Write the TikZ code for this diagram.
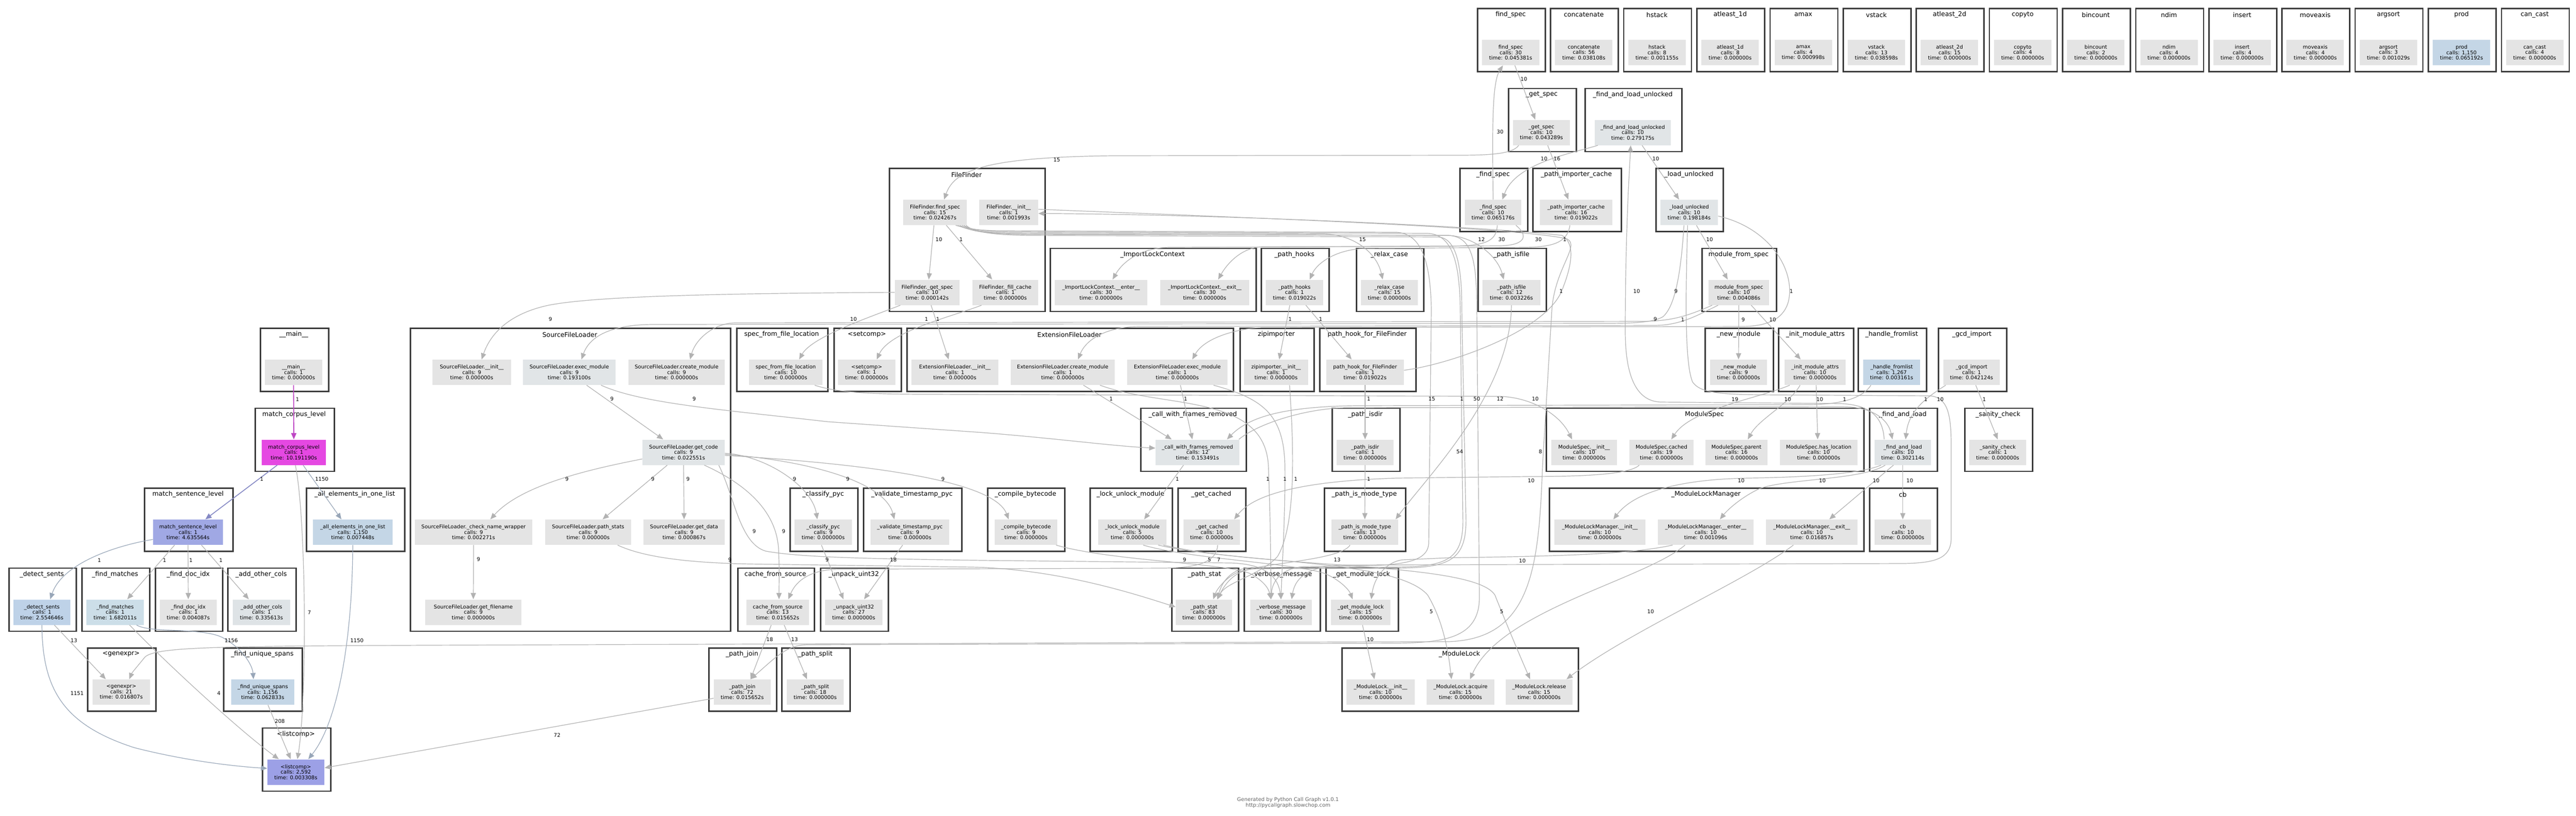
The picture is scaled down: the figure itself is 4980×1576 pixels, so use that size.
\documentclass[tikz,border=0pt]{standalone}
\usepackage{fontspec}
\setmainfont{DejaVu Sans}
\usetikzlibrary{arrows.meta}
\definecolor{ng}{RGB}{228,228,228}
\definecolor{nbg}{RGB}{225,229,231}
\definecolor{nb}{RGB}{196,214,230}
\definecolor{nmag}{RGB}{229,72,226}
\definecolor{nlav}{RGB}{160,168,228}
\definecolor{nlist}{RGB}{156,160,230}
\definecolor{ndet}{RGB}{190,210,232}
\definecolor{nfm}{RGB}{204,222,232}
\definecolor{naoc}{RGB}{222,227,230}
\definecolor{clb}{RGB}{60,60,60}
\definecolor{edg}{RGB}{178,178,178}
\definecolor{edbl}{RGB}{152,166,184}
\definecolor{edmag}{RGB}{190,70,196}
\definecolor{edpur}{RGB}{132,136,196}
\definecolor{glab}{RGB}{102,102,102}
\tikzset{
 clbox/.style={rectangle, draw=clb, line width=1.3pt, fill=white, inner sep=0pt},
 ttl/.style={font=\fontsize{6.2}{7}\selectfont, inner sep=0pt},
 fn/.style={rectangle, fill=#1, inner sep=0pt, minimum height=24.5pt, align=center, font=\fontsize{5}{5.25}\selectfont},
 ed/.style={draw=edg, line width=0.6pt, -{Triangle[length=6pt,width=5pt]}},
 edb/.style={ed, draw=edbl},
 edm/.style={ed, draw=edmag, line width=0.9pt},
 edp/.style={ed, draw=edpur, line width=0.8pt},
 lbl/.style={font=\fontsize{5}{6}\selectfont, inner sep=0pt},
 glb/.style={font=\fontsize{5}{6}\selectfont, inner sep=0pt, text=glab},
}
\newcommand\clu[6]{\node[clbox, anchor=north west, minimum width={(#4-#2)*0.5pt}, minimum height={(#5-#3)*0.5pt}] (#1) at (#2,#3) {};
 \node[ttl] (#1t) at ({(#2+#4)/2},#3+13.5) {#6};}
\newcommand\fnd[8]{\node[fn=#5, minimum width={(#3-#2)*0.5pt}] (#1) at ({(#2+#3)/2},#4+86.5) {#6\\calls: #7\\time: #8};}
\newcommand\elab[3]{\node[lbl] (#1) at (#2) {#3};}
\begin{document}
\begin{tikzpicture}[x=0.5pt,y=-0.5pt]
\fill[white] (0,0) rectangle (4980,1576);
\useasboundingbox (0,0) rectangle (4980,1576);
% ---------- top row
\foreach \ii/\nnm/\ntl/\ncl/\ntm/\nfc in {0/tfind/find\_spec/30/0.045381s/ng,1/tconc/concatenate/56/0.038108s/ng,2/thst/hstack/8/0.001155s/ng,3/tat1/atleast\_1d/8/0.000000s/ng,4/tamax/amax/4/0.000998s/ng,5/tvst/vstack/13/0.038598s/ng,6/tat2/atleast\_2d/15/0.000000s/ng,7/tcopy/copyto/4/0.000000s/ng,8/tbin/bincount/2/0.000000s/ng,9/tndim/ndim/4/0.000000s/ng,10/tins/insert/4/0.000000s/ng,11/tmove/moveaxis/4/0.000000s/ng,12/targ/argsort/3/0.001029s/ng,13/tprod/prod/{1,150}/0.065192s/nb,14/tcan/can\_cast/4/0.000000s/ng}{
 \pgfmathsetmacro\xa{2855+141.4*\ii}
 \pgfmathsetmacro\xb{\xa+131}
 \pgfmathsetmacro\xc{\xa+10}
 \pgfmathsetmacro\xd{\xa+121}
 \clu{k\nnm}{\xa}{15}{\xb}{137}{\ntl}
 \fnd{\nnm}{\xc}{\xd}{15}{\nfc}{\ntl}{\ncl}{\ntm}
}
% ---------- row 1
\clu{kgetspec}{2915}{169.5}{3046}{291.5}{\_get\_spec}
\fnd{getspec}{2925}{3035}{169.5}{ng}{\_get\_spec}{10}{0.043289s}
\clu{kfalu}{3063}{169.5}{3250}{291.5}{\_find\_and\_load\_unlocked}
\fnd{falu}{3083}{3230}{169.5}{nbg}{\_find\_and\_load\_unlocked}{10}{0.279175s}
% ---------- row 2
\clu{kff}{1718}{324}{2019}{600.5}{FileFinder}
\fnd{ffind}{1746}{1869}{324}{ng}{FileFinder.find\_spec}{15}{0.024267s}
\fnd{finit}{1893}{2007}{324}{ng}{FileFinder.\_\_init\_\_}{1}{0.001993s}
\fnd{fget}{1730}{1855}{478.5}{ng}{FileFinder.\_get\_spec}{10}{0.000142s}
\fnd{ffill}{1880}{2007}{478.5}{ng}{FileFinder.\_fill\_cache}{1}{0.000000s}
\clu{kfspec}{2821}{324}{2952}{446}{\_find\_spec}
\fnd{fspec}{2832}{2941}{324}{ng}{\_find\_spec}{10}{0.065176s}
\clu{kpic}{2962}{324}{3133}{446}{\_path\_importer\_cache}
\fnd{pic}{2977}{3117}{324}{ng}{\_path\_importer\_cache}{16}{0.019022s}
\clu{klu}{3200}{324}{3330}{446}{\_load\_unlocked}
\fnd{lu}{3210}{3321}{324}{nbg}{\_load\_unlocked}{10}{0.198184s}
% ---------- row 3
\clu{kilc}{2029}{478.5}{2427}{600.5}{\_ImportLockContext}
\fnd{ilenter}{2039}{2218}{478.5}{ng}{\_ImportLockContext.\_\_enter\_\_}{30}{0.000000s}
\fnd{ilexit}{2243}{2415}{478.5}{ng}{\_ImportLockContext.\_\_exit\_\_}{30}{0.000000s}
\clu{kphooks}{2437}{478.5}{2568}{600.5}{\_path\_hooks}
\fnd{phooks}{2447}{2558}{478.5}{ng}{\_path\_hooks}{1}{0.019022s}
\clu{krelax}{2621}{478.5}{2751}{600.5}{\_relax\_case}
\fnd{relax}{2631}{2741}{478.5}{ng}{\_relax\_case}{15}{0.000000s}
\clu{kpisfile}{2856}{478.5}{2988}{600.5}{\_path\_isfile}
\fnd{pisfile}{2866}{2978}{478.5}{ng}{\_path\_isfile}{12}{0.003226s}
\clu{kmfs}{3289}{478.5}{3433}{600.5}{module\_from\_spec}
\fnd{mfs}{3303}{3420}{478.5}{ng}{module\_from\_spec}{10}{0.004086s}
% ---------- row 4
\clu{kmain}{502}{633}{634}{755}{\_\_main\_\_}
\fnd{main}{512}{623}{633}{ng}{\_\_main\_\_}{1}{0.000000s}
\clu{ksfl}{792}{633}{1411}{1218.5}{SourceFileLoader}
\fnd{sinit}{836}{988}{633}{ng}{SourceFileLoader.\_\_init\_\_}{9}{0.000000s}
\fnd{sexec}{1011}{1190}{633}{nbg}{SourceFileLoader.exec\_module}{9}{0.193100s}
\fnd{screate}{1215}{1401}{633}{ng}{SourceFileLoader.create\_module}{9}{0.000000s}
\fnd{sgetcode}{1242}{1401}{787.5}{nbg}{SourceFileLoader.get\_code}{9}{0.022551s}
\fnd{scnw}{802}{1029}{942}{ng}{SourceFileLoader.\_check\_name\_wrapper}{9}{0.002271s}
\fnd{spstats}{1054}{1220}{942}{ng}{SourceFileLoader.path\_stats}{9}{0.000000s}
\fnd{sgdata}{1244}{1401}{942}{ng}{SourceFileLoader.get\_data}{9}{0.000867s}
\fnd{sgfn}{822}{1008}{1096.5}{ng}{SourceFileLoader.get\_filename}{9}{0.000000s}
\clu{ksffl}{1423}{633}{1599}{755}{spec\_from\_file\_location}
\fnd{sffl}{1448}{1590}{633}{ng}{spec\_from\_file\_location}{10}{0.000000s}
\clu{ksetc}{1611}{633}{1741}{755}{<setcomp>}
\fnd{setc}{1620}{1731}{633}{ng}{<setcomp>}{1}{0.000000s}
\clu{kefl}{1752}{633}{2383}{755}{ExtensionFileLoader}
\fnd{einit}{1762}{1930}{633}{ng}{ExtensionFileLoader.\_\_init\_\_}{1}{0.000000s}
\fnd{ecreate}{1954}{2155}{633}{ng}{ExtensionFileLoader.create\_module}{1}{0.000000s}
\fnd{eexec}{2179}{2373}{633}{ng}{ExtensionFileLoader.exec\_module}{1}{0.000000s}
\clu{kzip}{2396}{633}{2539}{755}{zipimporter}
\fnd{zinit}{2405}{2529}{633}{ng}{zipimporter.\_\_init\_\_}{1}{0.000000s}
\clu{kphff}{2550}{633}{2736}{755}{path\_hook\_for\_FileFinder}
\fnd{phff}{2564}{2714}{633}{ng}{path\_hook\_for\_FileFinder}{1}{0.019022s}
\clu{knewm}{3295}{633}{3427}{755}{\_new\_module}
\fnd{newm}{3306}{3416}{633}{ng}{\_new\_module}{9}{0.000000s}
\clu{kima}{3437}{633}{3582}{755}{\_init\_module\_attrs}
\fnd{ima}{3450}{3568}{633}{ng}{\_init\_module\_attrs}{10}{0.000000s}
\clu{khfl}{3591}{633}{3723}{755}{\_handle\_fromlist}
\fnd{hfl}{3602}{3712}{633}{nb}{\_handle\_fromlist}{1,267}{0.003161s}
\clu{kgcd}{3746}{633}{3878}{755}{\_gcd\_import}
\fnd{gcd}{3757}{3866}{633}{ng}{\_gcd\_import}{1}{0.042124s}
% ---------- row 5
\clu{kmcl}{492}{787.5}{645}{909.5}{match\_corpus\_level}
\fnd{mcl}{506}{630}{787.5}{nmag}{match\_corpus\_level}{1}{10.191190s}
\clu{kcwfr}{2204}{787.5}{2408}{909.5}{\_call\_with\_frames\_removed}
\fnd{cwfr}{2234}{2396}{787.5}{nbg}{\_call\_with\_frames\_removed}{12}{0.153491s}
\clu{kpisdir}{2574}{787.5}{2705}{909.5}{\_path\_isdir}
\fnd{pisdir}{2584}{2694}{787.5}{ng}{\_path\_isdir}{1}{0.000000s}
\clu{kms}{2988}{787.5}{3602}{909.5}{ModuleSpec}
\fnd{msinit}{2999}{3126}{787.5}{ng}{ModuleSpec.\_\_init\_\_}{10}{0.000000s}
\fnd{mscached}{3150}{3274}{787.5}{ng}{ModuleSpec.cached}{19}{0.000000s}
\fnd{msparent}{3297}{3417}{787.5}{ng}{ModuleSpec.parent}{16}{0.000000s}
\fnd{mshas}{3441}{3591}{787.5}{ng}{ModuleSpec.has\_location}{10}{0.000000s}
\clu{kfal}{3613}{787.5}{3744}{909.5}{\_find\_and\_load}
\fnd{fal}{3624}{3733}{787.5}{nbg}{\_find\_and\_load}{10}{0.302114s}
\clu{ksan}{3797}{787.5}{3928}{909.5}{\_sanity\_check}
\fnd{sanity}{3807}{3917}{787.5}{ng}{\_sanity\_check}{1}{0.000000s}
% ---------- row 6
\clu{kmsl}{278}{942}{449}{1064}{match\_sentence\_level}
\fnd{msl}{296}{431}{942}{nlav}{match\_sentence\_level}{1}{4.635564s}
\clu{kaeol}{591}{942}{781}{1064}{\_all\_elements\_in\_one\_list}
\fnd{aeol}{605}{759}{942}{nb}{\_all\_elements\_in\_one\_list}{1,150}{0.007448s}
\clu{kcpyc}{1526}{942}{1657}{1064}{\_classify\_pyc}
\fnd{cpyc}{1536}{1647}{942}{ng}{\_classify\_pyc}{9}{0.000000s}
\clu{kvtp}{1668}{942}{1858}{1064}{\_validate\_timestamp\_pyc}
\fnd{vtp}{1683}{1835}{942}{ng}{\_validate\_timestamp\_pyc}{9}{0.000000s}
\clu{kcbyte}{1908}{942}{2057}{1064}{\_compile\_bytecode}
\fnd{cbyte}{1923}{2044}{942}{ng}{\_compile\_bytecode}{9}{0.000000s}
\clu{klum}{2106}{942}{2265}{1064}{\_lock\_unlock\_module}
\fnd{lum}{2123}{2255}{942}{ng}{\_lock\_unlock\_module}{5}{0.000000s}
\clu{kgcached}{2276}{942}{2407}{1064}{\_get\_cached}
\fnd{gcached}{2288}{2397}{942}{ng}{\_get\_cached}{10}{0.000000s}
\clu{kpimt}{2559}{942}{2716}{1064}{\_path\_is\_mode\_type}
\fnd{pimt}{2574}{2703}{942}{ng}{\_path\_is\_mode\_type}{13}{0.000000s}
\clu{kmlm}{2994}{942}{3602}{1064}{\_ModuleLockManager}
\fnd{mlminit}{3005}{3181}{942}{ng}{\_ModuleLockManager.\_\_init\_\_}{10}{0.000000s}
\fnd{mlmenter}{3205}{3390}{942}{ng}{\_ModuleLockManager.\_\_enter\_\_}{10}{0.001096s}
\fnd{mlmexit}{3414}{3591}{942}{ng}{\_ModuleLockManager.\_\_exit\_\_}{10}{0.016857s}
\clu{kcb}{3613}{942}{3744}{1064}{cb}
\fnd{cb}{3624}{3733}{942}{ng}{cb}{10}{0.000000s}
% ---------- row 7
\clu{kdsent}{16}{1096.5}{146}{1218.5}{\_detect\_sents}
\fnd{dsent}{26}{136}{1096.5}{ndet}{\_detect\_sents}{1}{2.554646s}
\clu{kfmatch}{157}{1096.5}{288}{1218.5}{\_find\_matches}
\fnd{fmatch}{167}{278}{1096.5}{nfm}{\_find\_matches}{1}{1.682011s}
\clu{kfdoc}{299}{1096.5}{429}{1218.5}{\_find\_doc\_idx}
\fnd{fdoc}{309}{419}{1096.5}{ng}{\_find\_doc\_idx}{1}{0.004087s}
\clu{kaoc}{439}{1096.5}{571}{1218.5}{\_add\_other\_cols}
\fnd{aoc}{450}{561}{1096.5}{naoc}{\_add\_other\_cols}{1}{0.335613s}
\clu{kcfs}{1425}{1096.5}{1573}{1218.5}{cache\_from\_source}
\fnd{cfs}{1443}{1564}{1096.5}{ng}{cache\_from\_source}{13}{0.015652s}
\clu{kunpack}{1585}{1096.5}{1716}{1218.5}{\_unpack\_uint32}
\fnd{unpack}{1595}{1706}{1096.5}{ng}{\_unpack\_uint32}{27}{0.000000s}
\clu{kpstat}{2264}{1096.5}{2393}{1218.5}{\_path\_stat}
\fnd{pstat}{2273}{2382}{1096.5}{ng}{\_path\_stat}{83}{0.000000s}
\clu{kvmsg}{2404}{1096.5}{2551}{1218.5}{\_verbose\_message}
\fnd{vmsg}{2417}{2536}{1096.5}{ng}{\_verbose\_message}{30}{0.000000s}
\clu{kgml}{2562}{1096.5}{2702}{1218.5}{\_get\_module\_lock}
\fnd{gml}{2573}{2688}{1096.5}{ng}{\_get\_module\_lock}{15}{0.000000s}
% ---------- row 8
\clu{kgenx}{168}{1251}{300}{1373}{<genexpr>}
\fnd{genx}{179}{290}{1251}{ng}{<genexpr>}{21}{0.016807s}
\clu{kfus}{431}{1251}{583}{1373}{\_find\_unique\_spans}
\fnd{fus}{447}{569}{1251}{nb}{\_find\_unique\_spans}{1,156}{0.062833s}
\clu{kpjoin}{1369}{1251}{1500}{1373}{\_path\_join}
\fnd{pjoin}{1380}{1490}{1251}{ng}{\_path\_join}{72}{0.015652s}
\clu{kpsplit}{1510}{1251}{1642}{1373}{\_path\_split}
\fnd{psplit}{1521}{1631}{1251}{ng}{\_path\_split}{18}{0.000000s}
\clu{kml}{2593}{1251}{3050}{1373}{\_ModuleLock}
\fnd{mlinit}{2603}{2735}{1251}{ng}{\_ModuleLock.\_\_init\_\_}{10}{0.000000s}
\fnd{mlacq}{2758}{2889}{1251}{ng}{\_ModuleLock.acquire}{15}{0.000000s}
\fnd{mlrel}{2911}{3040}{1251}{ng}{\_ModuleLock.release}{15}{0.000000s}
% ---------- row 9
\clu{klistc}{506}{1405.5}{638}{1527.5}{<listcomp>}
\fnd{listc}{517}{627}{1405.5}{nlist}{<listcomp>}{2,592}{0.003308s}
% ---------- graph label
\node[glb] (gen1) at (2490,1546) {Generated by Python Call Graph v1.0.1};
\node[glb] (gen2) at (2490,1557) {http://pycallgraph.slowchop.com};
% ================= edges: left group
\draw[edm] (main.south) -- (mcl.north);
\draw[edp] ([xshift=-16pt]mcl.south) -- ([xshift=16.75pt]msl.north);
\draw[edb] ([xshift=9pt]mcl.south) -- ([xshift=-11pt]aeol.north);
\draw[ed] ([xshift=1.5pt]mcl.south) .. controls (592,1000) and (594,1350) .. ([xshift=1.5pt]listc.north);
\draw[edb] ([yshift=-7pt]msl.west) .. controls (220,1055) and (120,1090) .. ([xshift=8pt]dsent.north);
\draw[ed] ([xshift=-13pt]msl.south) -- ([xshift=11.75pt]fmatch.north);
\draw[ed] (msl.south) -- (fdoc.north);
\draw[ed] ([xshift=13pt]msl.south) -- ([xshift=-12.25pt]aoc.north);
\draw[ed] ([xshift=12pt]dsent.south) -- ([xshift=-15pt]genx.north);
\draw[edb] (dsent.south) .. controls (82,1330) and (120,1400) .. (260,1445) .. controls (350,1468) and (440,1480) .. ([yshift=3.5pt]listc.west);
\draw[ed] ([xshift=14pt]fmatch.south) .. controls (310,1270) and (460,1410) .. ([xshift=-16.5pt]listc.north);
\draw[edb] ([xshift=20.75pt]fmatch.south) .. controls (290,1224) and (390,1212) .. (430,1232) .. controls (468,1252) and (488,1285) .. ([xshift=-9pt]fus.north);
\draw[ed] ([xshift=5pt]fus.south) -- ([xshift=-5pt]listc.north);
\draw[edb] (aeol.south) .. controls (681,1250) and (650,1400) .. ([xshift=12pt]listc.north);
\draw[ed] ([yshift=-6pt]pjoin.west) -- ([yshift=4pt]listc.east);
\elab{L1}{575,772}{1}
\elab{L2}{506,926}{1}
\elab{L3}{622,926}{1150}
\elab{L4}{598,1184}{7}
\elab{L5}{192,1083}{1}
\elab{L6}{318,1083}{1}
\elab{L7}{369,1083}{1}
\elab{L8}{427,1083}{1}
\elab{L9}{143,1238}{13}
\elab{L10}{149,1340}{1151}
\elab{L11}{423,1340}{4}
\elab{L12}{447,1238}{1156}
\elab{L13}{541,1394}{208}
\elab{L14}{690,1238}{1150}
\elab{L15}{1077,1421}{72}
% ================= edges: top part
\draw[ed] (fspec.north) .. controls (2885,250) and (2884,160) .. ([xshift=-7.5pt]tfind.south);
\draw[ed] ([xshift=4pt]tfind.south) -- ([xshift=-6pt]getspec.north);
\draw[ed] ([xshift=-22pt]getspec.south) .. controls (2925,296) and (2890,300) .. (2820,300) -- (2150,301) .. controls (1900,304) and (1845,330) .. ([xshift=8.75pt]ffind.north);
\draw[ed] ([xshift=6pt]getspec.south) -- ([xshift=-7.5pt]pic.north);
\draw[ed] ([xshift=-33.75pt]falu.south) .. controls (3040,296) and (2930,315) .. ([xshift=9pt]fspec.north);
\draw[ed] ([xshift=9pt]falu.south) -- ([xshift=-9.75pt]lu.north);
\draw[ed] ([xshift=-18pt]fal.north) .. controls (3640,805) and (3615,783) .. (3560,780) -- (3210,777) .. controls (3160,775) and (3142,720) .. (3142,640) .. controls (3142,450) and (3150,330) .. ([xshift=-2pt]falu.south);
\draw[ed] ([xshift=40pt]cwfr.north) .. controls (2430,820) and (2520,790) .. (2600,788) -- (3560,786) .. controls (3620,786) and (3650,810) .. ([xshift=-10pt]fal.north);
\draw[ed] ([xshift=-20pt]hfl.south) .. controls (3600,770) and (3560,781) .. (3500,782) -- (2620,784) .. controls (2500,786) and (2420,800) .. ([xshift=28.5pt]cwfr.north);
\draw[ed] ([xshift=-25pt]gcd.south) .. controls (3730,765) and (3690,790) .. ([xshift=2.75pt]fal.north);
\draw[ed] ([xshift=4pt]gcd.south) -- (sanity.north);
\draw[ed] ([xshift=7pt]lu.south) -- ([xshift=-10.75pt]mfs.north);
\draw[ed] ([xshift=-5pt]lu.south) .. controls (3250,520) and (3240,590) .. (3215,612) .. controls (3195,624) and (3150,625) .. (3100,625) -- (1260,627) .. controls (1180,628) and (1140,650) .. ([xshift=11.75pt]sexec.north);
\draw[ed] ([yshift=-3.5pt]lu.east) .. controls (3420,440) and (3470,520) .. (3458,580) .. controls (3450,615) and (3420,630) .. (3370,631) -- (2440,633) .. controls (2400,634) and (2330,650) .. ([xshift=14.5pt]eexec.north);
\draw[ed] ([xshift=-25.75pt]mfs.south) .. controls (3260,612) and (3230,620) .. (3180,621) -- (1420,624) .. controls (1380,625) and (1345,655) .. ([xshift=13pt]screate.north);
\draw[ed] ([xshift=-20pt]mfs.south) .. controls (3280,610) and (3250,628) .. (3200,629) -- (2200,631) .. controls (2140,632) and (2100,655) .. ([xshift=14.75pt]ecreate.north);
\draw[ed] (mfs.south) -- (newm.north);
\draw[ed] ([xshift=12pt]mfs.south) -- ([xshift=-14pt]ima.north);
\draw[ed] ([xshift=-24.5pt]ima.south) .. controls (3400,770) and (3270,790) .. ([xshift=9.5pt]mscached.north);
\draw[ed] ([xshift=-14.5pt]ima.south) .. controls (3460,780) and (3400,810) .. ([xshift=11pt]msparent.north);
\draw[ed] ([xshift=1pt]ima.south) -- ([xshift=-1pt]mshas.north);
\draw[ed] ([xshift=-21pt]fal.south) .. controls (3600,915) and (3500,922) .. (3380,924) .. controls (3250,926) and (3160,950) .. ([xshift=13pt]mlminit.north);
\draw[ed] ([xshift=-17pt]fal.south) .. controls (3600,928) and (3450,925) .. (3400,945) .. controls (3365,962) and (3340,985) .. ([xshift=13.75pt]mlmenter.north);
\draw[ed] ([xshift=-9pt]fal.south) -- ([xshift=17pt]mlmexit.north);
\draw[ed] (fal.south) -- (cb.north);
\draw[ed] ([xshift=-1.5pt]lu.south) .. controls (3259,560) and (3256,700) .. (3272,738) .. controls (3285,758) and (3320,762) .. (3400,763) -- (3730,765) .. controls (3765,767) and (3772,800) .. (3772,860) -- (3772,1040) .. controls (3772,1080) and (3740,1088) .. (3680,1089) -- (2600,1092) .. controls (2540,1093) and (2505,1110) .. ([xshift=10.25pt]vmsg.north);
\elab{L17}{2900,255}{30}
\elab{L18}{2946,153}{10}
\elab{L19}{2043,309}{15}
\elab{L20}{3010,307}{16}
\elab{L21}{2985,307}{10}
\elab{L22}{3201,307}{10}
\elab{L23}{3164,563}{10}
\elab{L25}{3566,772}{1}
\elab{L26}{3723,772}{1}
\elab{L27}{3836,772}{1}
\elab{L28}{3305,463}{10}
\elab{L29}{3240,563}{9}
\elab{L30}{3463,563}{1}
\elab{L31}{3200,617}{9}
\elab{L32}{3253,618}{1}
\elab{L33}{3370,618}{9}
\elab{L34}{3427,618}{10}
\elab{L35}{3354,772}{19}
\elab{L36}{3456,772}{10}
\elab{L37}{3518,772}{10}
\elab{L38}{3366,929}{10}
\elab{L39}{3523,929}{10}
\elab{L40}{3627,929}{10}
\elab{L41}{3692,929}{10}
\elab{L42}{3751,772}{10}
% ================= FileFinder and middle
\draw[ed] ([xshift=-1pt]ffind.south) -- ([xshift=1.5pt]fget.north);
\draw[ed] ([xshift=11pt]ffind.south) -- ([xshift=-12.75pt]ffill.north);
\draw[ed] ([xshift=22pt]ffind.south) .. controls (1872,445) and (1900,449) .. (1950,450) -- (2560,452) .. controls (2620,454) and (2662,490) .. ([xshift=-6.5pt]relax.north);
\draw[ed] ([xshift=24pt]ffind.south) .. controls (1875,447) and (1905,451) .. (1960,452) -- (2800,455) .. controls (2850,457) and (2895,495) .. ([xshift=-7.5pt]pisfile.north);
\draw[ed] ([xshift=26pt]ffind.south) .. controls (1878,445) and (1910,448) .. (1970,448) -- (2760,451) .. controls (2805,453) and (2822,500) .. (2823,600) -- (2828,1000) .. controls (2830,1080) and (2800,1095) .. (2700,1096) -- (2420,1097) .. controls (2380,1098) and (2362,1125) .. ([xshift=13pt]pstat.north);
\draw[ed] ([xshift=28pt]ffind.south) .. controls (1880,447) and (1915,452) .. (1980,453) -- (2800,455) .. controls (2845,457) and (2855,500) .. (2855,600) -- (2860,1150) .. controls (2862,1230) and (2800,1242) .. (2700,1243) -- (1560,1246) .. controls (1520,1247) and (1500,1270) .. ([xshift=8pt]pjoin.north);
\draw[ed] ([xshift=20pt]ffind.south) .. controls (1870,442) and (1895,446) .. (1940,446) -- (2700,449) .. controls (2745,451) and (2766,500) .. (2767,600) -- (2762,1050) .. controls (2760,1090) and (2700,1093) .. (2600,1094) -- (2520,1095) .. controls (2480,1098) and (2460,1120) .. ([xshift=-9.75pt]vmsg.north);
\draw[ed] ([xshift=30pt]ffind.south) .. controls (1882,449) and (1920,454) .. (1990,455) -- (2780,458) .. controls (2818,460) and (2826,520) .. (2826,600) -- (2834,1000) .. controls (2836,1085) and (2800,1097) .. (2700,1098) -- (2430,1099) .. controls (2390,1100) and (2370,1125) .. ([xshift=13pt]pstat.north);
\draw[ed] (fget.west) .. controls (1400,567) and (1150,572) .. (1060,590) .. controls (990,605) and (950,640) .. ([xshift=9.5pt]sinit.north);
\draw[ed] ([xshift=-26pt]fget.south) .. controls (1690,610) and (1570,650) .. ([xshift=13pt]sffl.north);
\draw[ed] ([xshift=3.75pt]fget.south) -- ([xshift=-6pt]einit.north);
\draw[ed] ([xshift=-23pt]ffill.south) .. controls (1840,612) and (1720,640) .. ([xshift=9.75pt]setc.north);
\draw[ed] ([xshift=16.75pt]sexec.south) -- ([xshift=-19.75pt]sgetcode.north);
\draw[ed] ([xshift=30.75pt]sexec.south) .. controls (1240,780) and (1400,792) .. (1600,815) -- (1900,836) .. controls (2050,848) and (2150,862) .. ([yshift=4pt]cwfr.west);
\draw[ed] ([yshift=-6.5pt]sgetcode.west) .. controls (1150,905) and (1010,935) .. ([xshift=16.25pt]scnw.north);
\draw[ed] ([xshift=-15.75pt]sgetcode.south) -- ([xshift=14pt]spstats.north);
\draw[ed] (sgetcode.south) -- (sgdata.north);
\draw[ed] ([yshift=-1pt]sgetcode.east) .. controls (1480,880) and (1570,940) .. ([xshift=-5.75pt]cpyc.north);
\draw[ed] ([yshift=-2pt]sgetcode.east) .. controls (1560,890) and (1710,930) .. ([xshift=-15pt]vtp.north);
\draw[ed] ([yshift=-3pt]sgetcode.east) .. controls (1650,895) and (1920,925) .. ([xshift=-16.75pt]cbyte.north);
\draw[ed] ([xshift=20pt]sgetcode.south) .. controls (1430,930) and (1500,980) .. (1505,1060) .. controls (1507,1100) and (1506,1120) .. ([xshift=1.25pt]cfs.north);
\draw[ed] ([xshift=34pt]sgetcode.south) .. controls (1420,960) and (1430,1050) .. (1480,1065) .. controls (1550,1078) and (1700,1080) .. (1900,1083) -- (2380,1088) .. controls (2440,1090) and (2470,1110) .. (vmsg.north);
\draw[ed] ([xshift=28.5pt]spstats.south) .. controls (1250,1080) and (1350,1088) .. (1450,1090) -- (1880,1096) .. controls (2050,1100) and (2200,1150) .. ([yshift=5pt]pstat.west);
\draw[ed] (scnw.south) -- (sgfn.north);
\draw[ed] ([xshift=-1.75pt]cpyc.south) -- ([xshift=-10pt]unpack.north);
\draw[ed] ([xshift=-7pt]vtp.south) -- ([xshift=10pt]unpack.north);
\draw[ed] ([xshift=29pt]cbyte.south) .. controls (2150,1085) and (2380,1088) .. (2420,1110) .. controls (2440,1122) and (2452,1135) .. ([xshift=-9.75pt]vmsg.north);
\draw[ed] ([xshift=-13.5pt]cwfr.south) -- ([xshift=11.5pt]lum.north);
\draw[ed] ([xshift=20pt]ecreate.south) -- ([xshift=-25pt]cwfr.north);
\draw[ed] ([xshift=3pt]eexec.south) -- ([xshift=-5pt]cwfr.north);
\draw[ed] ([xshift=36pt]ecreate.south) .. controls (2250,790) and (2445,760) .. (2452,900) .. controls (2456,1000) and (2457,1100) .. ([xshift=-9.75pt]vmsg.north);
\draw[ed] ([xshift=35pt]eexec.south) .. controls (2440,770) and (2482,800) .. (2484,900) .. controls (2485,1000) and (2478,1100) .. (vmsg.north);
\draw[ed] ([xshift=13pt]zinit.south) .. controls (2500,850) and (2508,1010) .. (2470,1075) .. controls (2440,1110) and (2370,1125) .. ([xshift=13pt]pstat.north);
\draw[ed] ([xshift=-4.5pt]phooks.south) -- ([xshift=3pt]zinit.north);
\draw[ed] ([xshift=11pt]phooks.south) -- ([xshift=-13pt]phff.north);
\draw[ed] (phff.south) -- (pisdir.north);
\draw[ed] ([yshift=2pt]phff.east) .. controls (2800,705) and (2990,640) .. (3020,560) .. controls (3040,510) and (3045,470) .. (3020,455) .. controls (2900,440) and (2400,415) .. ([yshift=-1pt]finit.east);
\draw[ed] ([yshift=3pt]finit.east) .. controls (2400,420) and (2950,440) .. (3030,462) .. controls (3055,475) and (3005,520) .. (3000,600) -- (2982,900) .. controls (2975,1100) and (2960,1235) .. (2800,1240) -- (820,1247) .. controls (420,1249) and (300,1250) .. (280,1270) .. controls (268,1285) and (255,1300) .. ([xshift=7.75pt]genx.north);
\draw[ed] ([xshift=-6pt]pic.south) .. controls (3030,470) and (3000,477) .. (2950,478) -- (2640,480) .. controls (2580,482) and (2545,510) .. ([xshift=14.75pt]phooks.north);
\draw[ed] ([xshift=4pt]fspec.south) .. controls (2893,468) and (2870,475) .. (2800,476) -- (2260,478) .. controls (2200,479) and (2168,510) .. ([xshift=11.25pt]ilenter.north);
\draw[ed] ([xshift=22pt]fspec.south) .. controls (2955,455) and (2950,474) .. (2900,475) -- (2440,477) .. controls (2400,478) and (2372,510) .. ([xshift=13pt]ilexit.north);
\draw[ed] (pisfile.south) .. controls (2920,760) and (2760,920) .. ([xshift=29.75pt]pimt.north);
\draw[ed] (pisdir.south) -- (pimt.north);
\draw[ed] ([xshift=-14.25pt]pimt.south) .. controls (2590,1085) and (2420,1088) .. (2385,1110) .. controls (2365,1122) and (2352,1140) .. ([xshift=9pt]pstat.north);
\draw[ed] ([xshift=28pt]sffl.south) .. controls (1620,760) and (1700,762) .. (1800,762) -- (2900,766) .. controls (2960,768) and (3015,800) .. ([xshift=-11.75pt]msinit.north);
\draw[ed] ([xshift=-21.5pt]mscached.south) .. controls (3150,918) and (3050,921) .. (2950,921) -- (2700,924) .. controls (2500,930) and (2420,960) .. ([xshift=21.75pt]gcached.north);
\draw[ed] ([xshift=5.75pt]gcached.south) .. controls (2352,1085) and (2320,1097) .. (2250,1098) -- (1620,1100) .. controls (1570,1101) and (1540,1120) .. ([xshift=10.25pt]cfs.north);
\draw[ed] ([xshift=10.5pt]lum.south) .. controls (2300,1080) and (2500,1088) .. (2560,1108) .. controls (2590,1120) and (2608,1140) .. ([xshift=-7.75pt]gml.north);
\draw[ed] ([xshift=25pt]lum.south) .. controls (2400,1090) and (2700,1080) .. (2760,1150) .. controls (2790,1200) and (2800,1260) .. ([xshift=-8.75pt]mlacq.north);
\draw[ed] ([xshift=30pt]lum.south) .. controls (2450,1100) and (2850,1085) .. (2890,1150) .. controls (2910,1200) and (2935,1260) .. ([xshift=-8.75pt]mlrel.north);
\draw[ed] ([xshift=-32pt]mlmenter.south) .. controls (3150,1072) and (3000,1075) .. (2800,1078) -- (2710,1082) .. controls (2675,1088) and (2656,1120) .. ([xshift=10.25pt]gml.north);
\draw[ed] ([xshift=-20pt]mlmenter.south) .. controls (3180,1120) and (2900,1180) .. ([xshift=9.25pt]mlacq.north);
\draw[ed] ([xshift=-17.75pt]mlmexit.south) .. controls (3380,1120) and (3150,1220) .. ([xshift=-6pt]mlrel.north east);
\draw[ed] ([xshift=1.75pt]gml.south) -- ([xshift=-6pt]mlinit.north);
\draw[ed] ([xshift=-6.25pt]cfs.south) -- ([xshift=8pt]pjoin.north);
\draw[ed] ([xshift=6.25pt]cfs.south) -- ([xshift=-8pt]psplit.north);
\elab{L43}{1815,463}{10}
\elab{L44}{1858,463}{1}
\elab{L45}{2634,463}{15}
\elab{L46}{2864,463}{12}
\elab{L47}{2822,873}{54}
\elab{L48}{2855,771}{50}
\elab{L49}{2768,771}{15}
\elab{L50}{2826,771}{1}
\elab{L51}{1064,617}{9}
\elab{L52}{1650,617}{10}
\elab{L53}{1813,617}{1}
\elab{L54}{1791,617}{1}
\elab{L55}{1183,771}{9}
\elab{L56}{1342,771}{9}
\elab{L57}{1096,926}{9}
\elab{L58}{1262,926}{9}
\elab{L59}{1330,926}{9}
\elab{L60}{1536,926}{9}
\elab{L61}{1639,926}{9}
\elab{L62}{1823,926}{9}
\elab{L63}{1515,1027}{9}
\elab{L64}{1458,1027}{9}
\elab{L65}{1411,1082}{9}
\elab{L66}{925,1081}{9}
\elab{L67}{1599,1082}{9}
\elab{L68}{1727,1082}{18}
\elab{L69}{2290,1082}{9}
\elab{L70}{2276,926}{1}
\elab{L71}{2148,771}{1}
\elab{L72}{2292,771}{1}
\elab{L73}{2451,926}{1}
\elab{L74}{2484,926}{1}
\elab{L75}{2505,926}{1}
\elab{L76}{2494,617}{1}
\elab{L77}{2553,617}{1}
\elab{L78}{2646,771}{1}
\elab{L79}{3018,563}{1}
\elab{L80}{2978,873}{8}
\elab{L81}{3025,463}{1}
\elab{L82}{2903,463}{30}
\elab{L83}{2974,463}{30}
\elab{L84}{2900,771}{12}
\elab{L85}{2646,926}{1}
\elab{L86}{2585,1082}{13}
\elab{L87}{2968,771}{10}
\elab{L88}{2960,929}{10}
\elab{L89}{2356,1082}{7}
\elab{L90}{2338,1082}{5}
\elab{L91}{2767,1182}{5}
\elab{L92}{2903,1182}{5}
\elab{L93}{2943,1084}{10}
\elab{L95}{3191,1182}{10}
\elab{L96}{2649,1236}{10}
\elab{L97}{1488,1236}{18}
\elab{L98}{1536,1236}{13}
\end{tikzpicture}
\end{document}
